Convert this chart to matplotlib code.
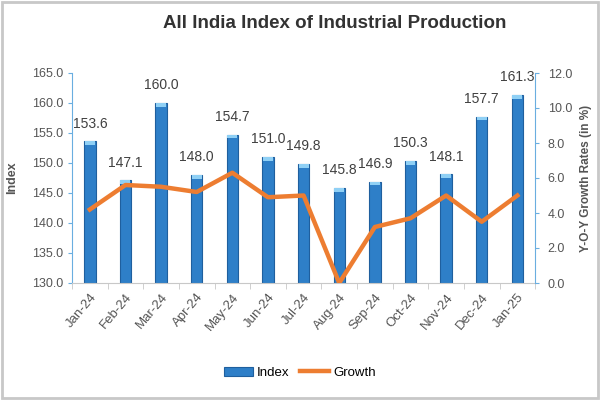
import matplotlib
matplotlib.use("Agg")
import matplotlib.pyplot as plt
import numpy as np

months = ["Jan-24", "Feb-24", "Mar-24", "Apr-24", "May-24", "Jun-24", "Jul-24",
          "Aug-24", "Sep-24", "Oct-24", "Nov-24", "Dec-24", "Jan-25"]
index_vals = [153.6, 147.1, 160.0, 148.0, 154.7, 151.0, 149.8,
              145.8, 146.9, 150.3, 148.1, 157.7, 161.3]
growth_vals = [4.2, 5.6, 5.5, 5.2, 6.3, 4.9, 5.0, 0.0, 3.2, 3.7, 5.0, 3.5, 5.0]

narrow = ['Liberation Sans Narrow', 'DejaVu Sans Condensed', 'Liberation Sans', 'DejaVu Sans']
plt.rcParams['font.family'] = narrow

fig = plt.figure(figsize=(6, 4), dpi=100)
fig.patches.append(plt.Rectangle((0.004, 0.004), 0.992, 0.99, transform=fig.transFigure,
                                 fill=False, edgecolor='#c8c8c8', lw=2))
ax = fig.add_axes([0.12, 0.2925, 0.772, 0.525])
x = np.arange(len(months))

bars = ax.bar(x, [v - 130 for v in index_vals], bottom=130, width=0.32,
              color='#2e7fc8', edgecolor='#1f5f9e', linewidth=0.8, label='Index', zorder=2)
# lighter cap on each bar
ax.bar(x, 0.6, bottom=[v - 0.6 for v in index_vals], width=0.28,
       color='#8fd0f5', linewidth=0, zorder=3)
for xi, v in zip(x, index_vals):
    ax.text(xi, v + 1.8, f"{v:.1f}", ha='center', va='bottom', fontsize=10, color='#404040')

ax.set_ylim(130, 165)
ax.set_yticks(np.arange(130, 166, 5))
ax.set_yticklabels([f"{t:.1f}" for t in np.arange(130, 166, 5)], fontsize=9, color='#555555')
ax.set_xlim(-0.5, 12.5)
ax.set_xticks(x)
ax.set_xticklabels(months, rotation=50, ha='right', rotation_mode='anchor',
                   fontsize=9.5, color='#555555')
ax.set_xticks(np.arange(-0.5, 13, 1), minor=True)
ax.tick_params(axis='x', which='major', length=0, pad=6)
ax.tick_params(axis='x', which='minor', length=4, color='#c8c8c8')
ax.tick_params(axis='y', length=3, color='#6aaee0', pad=3)
ax.set_ylabel("Index", fontsize=9, fontweight='bold', color='#555555', labelpad=10)
for s in ['top', 'right']:
    ax.spines[s].set_visible(False)
ax.spines['left'].set_color('#6aaee0')
ax.spines['bottom'].set_color('#c8c8c8')

ax2 = ax.twinx()
line, = ax2.plot(x, growth_vals, color='#ed7d31', lw=3.2, label='Growth', zorder=4)
ax2.set_ylim(0, 12)
ax2.set_yticks(np.arange(0, 13, 2))
ax2.set_yticklabels([f"{t:.1f}" for t in np.arange(0, 13, 2)], fontsize=9, color='#555555')
ax2.tick_params(axis='y', length=3, color='#6aaee0', pad=6)
ax2.set_ylabel("Y-O-Y Growth Rates (in %)", fontsize=8.5, fontweight='bold', color='#555555',
               labelpad=6)
for s in ['top', 'left', 'bottom']:
    ax2.spines[s].set_visible(False)
ax2.spines['right'].set_color('#6aaee0')

fig.text(0.558, 0.942, "All India Index of Industrial Production", ha='center', va='center',
         fontsize=13.5, fontweight='bold', color='#333333')

fig.legend([bars, line], ["Index", "Growth"], loc='center', bbox_to_anchor=(0.5, 0.068),
           ncol=2, frameon=False, fontsize=9.5, handlelength=2.2, columnspacing=0.8,
           handletextpad=0.3)

fig.savefig("out.png", dpi=100)
